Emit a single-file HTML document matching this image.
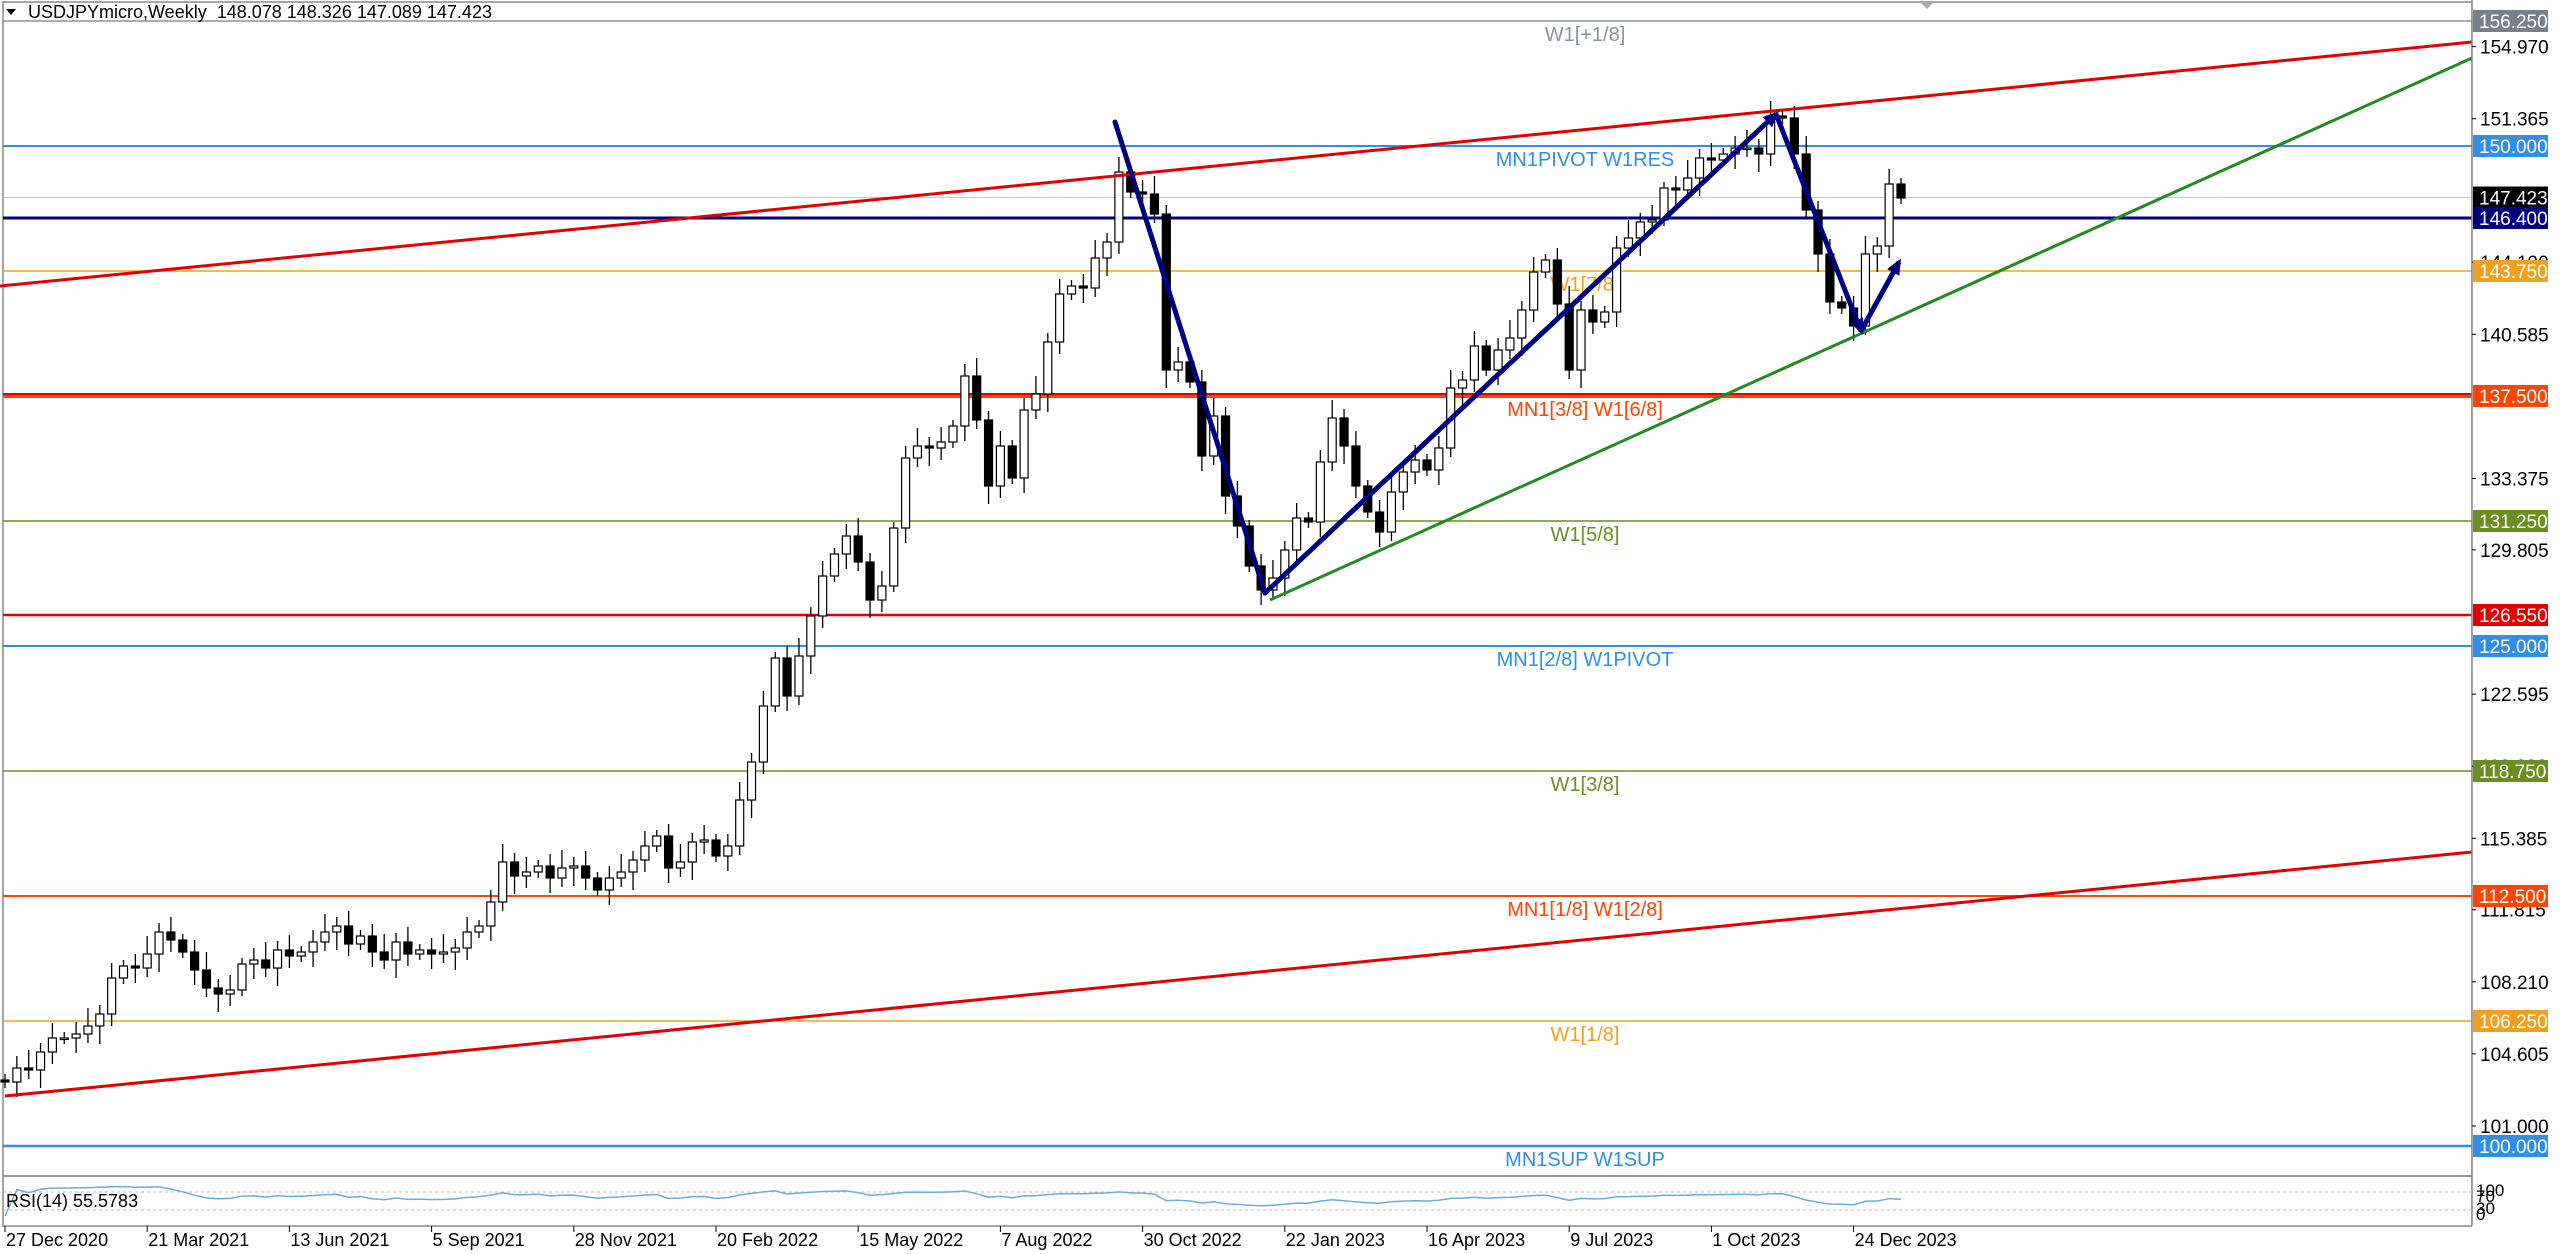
<!DOCTYPE html>
<html><head><meta charset="utf-8"><style>
html,body{margin:0;padding:0;background:#fff;width:2560px;height:1254px;overflow:hidden}
svg{display:block}
text{font-family:"Liberation Sans",sans-serif}
</style></head><body>
<svg id="c" width="2560" height="1254" xmlns="http://www.w3.org/2000/svg"></svg>
<script>
const C=[103.2,103.9,103.8,104.7,105.4,105.4,105.6,106.0,106.6,108.4,109.0,108.9,109.6,110.7,110.3,109.7,108.8,107.9,107.6,107.8,109.1,109.3,108.9,109.8,109.5,109.7,110.2,110.7,111.0,110.1,110.5,109.7,109.3,110.2,109.6,109.8,109.6,109.7,109.9,110.7,111.0,112.2,114.2,113.5,113.7,114.0,113.4,113.9,114.0,113.4,112.8,113.4,113.7,114.3,115.0,115.5,113.9,114.2,115.2,115.3,114.5,115.0,117.3,119.2,122.0,124.4,122.5,124.5,126.5,128.5,129.6,130.5,129.2,127.3,128.0,130.9,134.4,135.0,134.9,135.2,136.0,138.5,136.3,133.0,135.0,133.4,136.8,137.6,140.2,142.6,143.0,142.9,144.4,145.2,148.7,147.7,147.6,146.6,138.8,139.2,138.2,134.5,136.5,132.5,131.0,129.0,127.8,128.4,129.8,131.4,131.2,134.2,136.4,135.0,133.0,131.7,130.7,132.7,133.7,134.3,133.8,134.9,137.9,138.3,140.0,138.8,139.8,140.4,141.8,143.7,144.3,142.1,138.8,141.8,141.2,141.7,144.9,145.4,146.2,146.3,147.9,147.8,148.4,149.4,149.3,149.6,149.9,149.9,149.6,151.5,151.4,149.6,146.8,144.6,142.2,141.9,141.0,144.6,145.0,148.1,147.4];
const Y=p=>146+(150-p)*20, X=w=>5+w*11.85;
let s='';
const L=(x1,y1,x2,y2,c,w,e='')=>s+=`<line x1="${x1}" y1="${y1}" x2="${x2}" y2="${y2}" stroke="${c}" stroke-width="${w}" ${e}/>`;
const T=(x,y,t,c,sz,a='start',e='')=>s+=`<text x="${x}" y="${y}" fill="${c}" font-size="${sz}" text-anchor="${a}" ${e}>${t}</text>`;
s+=`<rect x="3" y="2" width="2469" height="1174" fill="none" stroke="#888" stroke-width="1.5"/>`;
s+=`<rect x="3" y="1176" width="2469" height="50" fill="none" stroke="#888" stroke-width="1.5"/>`;
const lv=[[156.25,'#8a939e',1.5,'W1[+1/8]','#8a939e'],[150,'#2f8fe8',2,'MN1PIVOT W1RES','#2f8fe8'],[147.423,'#c8c8c8',1,'',''],[146.4,'#000080',3,'',''],[143.75,'#f0a020',1.5,'W1[7/8]','#f0a020'],[137.5,'#ff4500',4,'MN1[3/8] W1[6/8]','#ff4500'],[131.25,'#6b8e23',1.5,'W1[5/8]','#6b8e23'],[126.55,'#e00000',2.5,'',''],[125,'#2f8fe8',2,'MN1[2/8] W1PIVOT','#2f8fe8'],[118.75,'#6b8e23',1.5,'W1[3/8]','#6b8e23'],[112.5,'#ff4500',2,'MN1[1/8] W1[2/8]','#ff4500'],[106.25,'#f0a020',1.5,'W1[1/8]','#f0a020'],[100,'#2f8fe8',2.5,'MN1SUP W1SUP','#2f8fe8']];
for(const l of lv){L(3,Y(l[0]),2472,Y(l[0]),l[1],l[2]);if(l[3])T(1585,Y(l[0])+20,l[3],l[4],20,'middle');}
L(3,Y(137.5)-2,2472,Y(137.5)-2,'#e00000',2);
let o=103.3;
for(let i=0;i<C.length;i++){const c=C[i],x=X(i);const hi=Math.max(o,c)+0.3+((i*7)%5)*0.15,lo=Math.min(o,c)-0.3-((i*3)%5)*0.15;
L(x,Y(hi),x,Y(lo),'#000',1.3);const t=Y(Math.max(o,c)),b=Y(Math.min(o,c));const h=Math.max(1.5,b-t);
s+=`<rect x="${x-4}" y="${t}" width="8" height="${h}" fill="${c>=o?'#fff':'#000'}" stroke="#000" stroke-width="1.2"/>`;o=c;}
L(0,286,2472,42,'#e00000',3);L(5,1096,2472,852,'#e00000',3);L(1270,600,2472,58,'#228b22',3);
s+=`<defs><marker id="ah" markerUnits="userSpaceOnUse" markerWidth="16" markerHeight="14" refX="12" refY="7" orient="auto"><path d="M0,0L16,7L0,14z" fill="#000080"/></marker></defs>`;
s+=`<polyline points="1115,122 1265,593" fill="none" stroke="#000080" stroke-width="5" stroke-linecap="round"/>`;
s+=`<polyline points="1265,593 1776,114" fill="none" stroke="#000080" stroke-width="5" marker-end="url(#ah)"/>`;
s+=`<polyline points="1776,114 1861,331" fill="none" stroke="#000080" stroke-width="5" marker-end="url(#ah)"/>`;
s+=`<polyline points="1861,331 1899,262" fill="none" stroke="#000080" stroke-width="5" marker-end="url(#ah)"/>`;
s+=`<rect x="2472" y="0" width="88" height="1254" fill="#fff"/>`;L(2472,0,2472,1226,'#888',1.5);
const tk=[154.97,151.365,144.19,140.585,133.375,129.805,122.595,118.99,115.385,111.815,108.21,104.605,101.0];
for(const p of tk){L(2472,Y(p),2476,Y(p),'#000',1);T(2480,Y(p)+7,p.toFixed(3),'#000',19);}
const bx=[[156.25,'#77808a'],[150,'#2f8fe8'],[147.423,'#000'],[146.4,'#000080'],[143.75,'#f0a020'],[137.5,'#ff4500'],[131.25,'#6b8e23'],[126.55,'#e00000'],[125,'#2f8fe8'],[118.75,'#6b8e23'],[112.5,'#ff4500'],[106.25,'#f0a020'],[100,'#2f8fe8']];
for(const b of bx){s+=`<rect x="2473" y="${Y(b[0])-11}" width="75" height="22" fill="${b[1]}"/>`;T(2479,Y(b[0])+7,b[0].toFixed(3),'#fff',19);}
L(3,1192,2472,1192,'#bbb',1,'stroke-dasharray="3,3"');L(3,1210,2472,1210,'#bbb',1,'stroke-dasharray="3,3"');
let g=0,ls=0,pts=[],pr=103.3;
for(let i=0;i<C.length;i++){const d=C[i]-pr;pr=C[i];const up=Math.max(d,0),dn=Math.max(-d,0);g=(g*13+up)/14;ls=(ls*13+dn)/14;let r=ls==0?60:100-100/(1+g/ls);r=50+(r-50)*0.6;pts.push(X(i)+','+(1226-Math.min(90,Math.max(20,r))*0.5).toFixed(1));}
s+=`<polyline points="${pts.join(' ')}" fill="none" stroke="#6aaed6" stroke-width="1.5"/>`;
T(6,1207,'RSI(14) 55.5783','#000',18);
T(2476,1196,'100','#000',17);T(2476,1202,'70','#000',17);T(2476,1214,'30','#000',17);T(2476,1220,'0','#000',17);
const ds=['27 Dec 2020','21 Mar 2021','13 Jun 2021','5 Sep 2021','28 Nov 2021','20 Feb 2022','15 May 2022','7 Aug 2022','30 Oct 2022','22 Jan 2023','16 Apr 2023','9 Jul 2023','1 Oct 2023','24 Dec 2023'];
ds.forEach((d,i)=>{const x=5+i*142.2;L(x,1226,x,1232,'#000',1);T(x+1,1246,d,'#000',18);});
s+=`<path d="M6,9L16,9L11,15z" fill="#000"/>`;
T(28,18,'USDJPYmicro,Weekly&#160; 148.078 148.326 147.089 147.423','#000',18);
s+=`<path d="M1920,2L1934,2L1927,9z" fill="#aaa"/>`;
document.getElementById('c').innerHTML=s;
</script>
</body></html>
